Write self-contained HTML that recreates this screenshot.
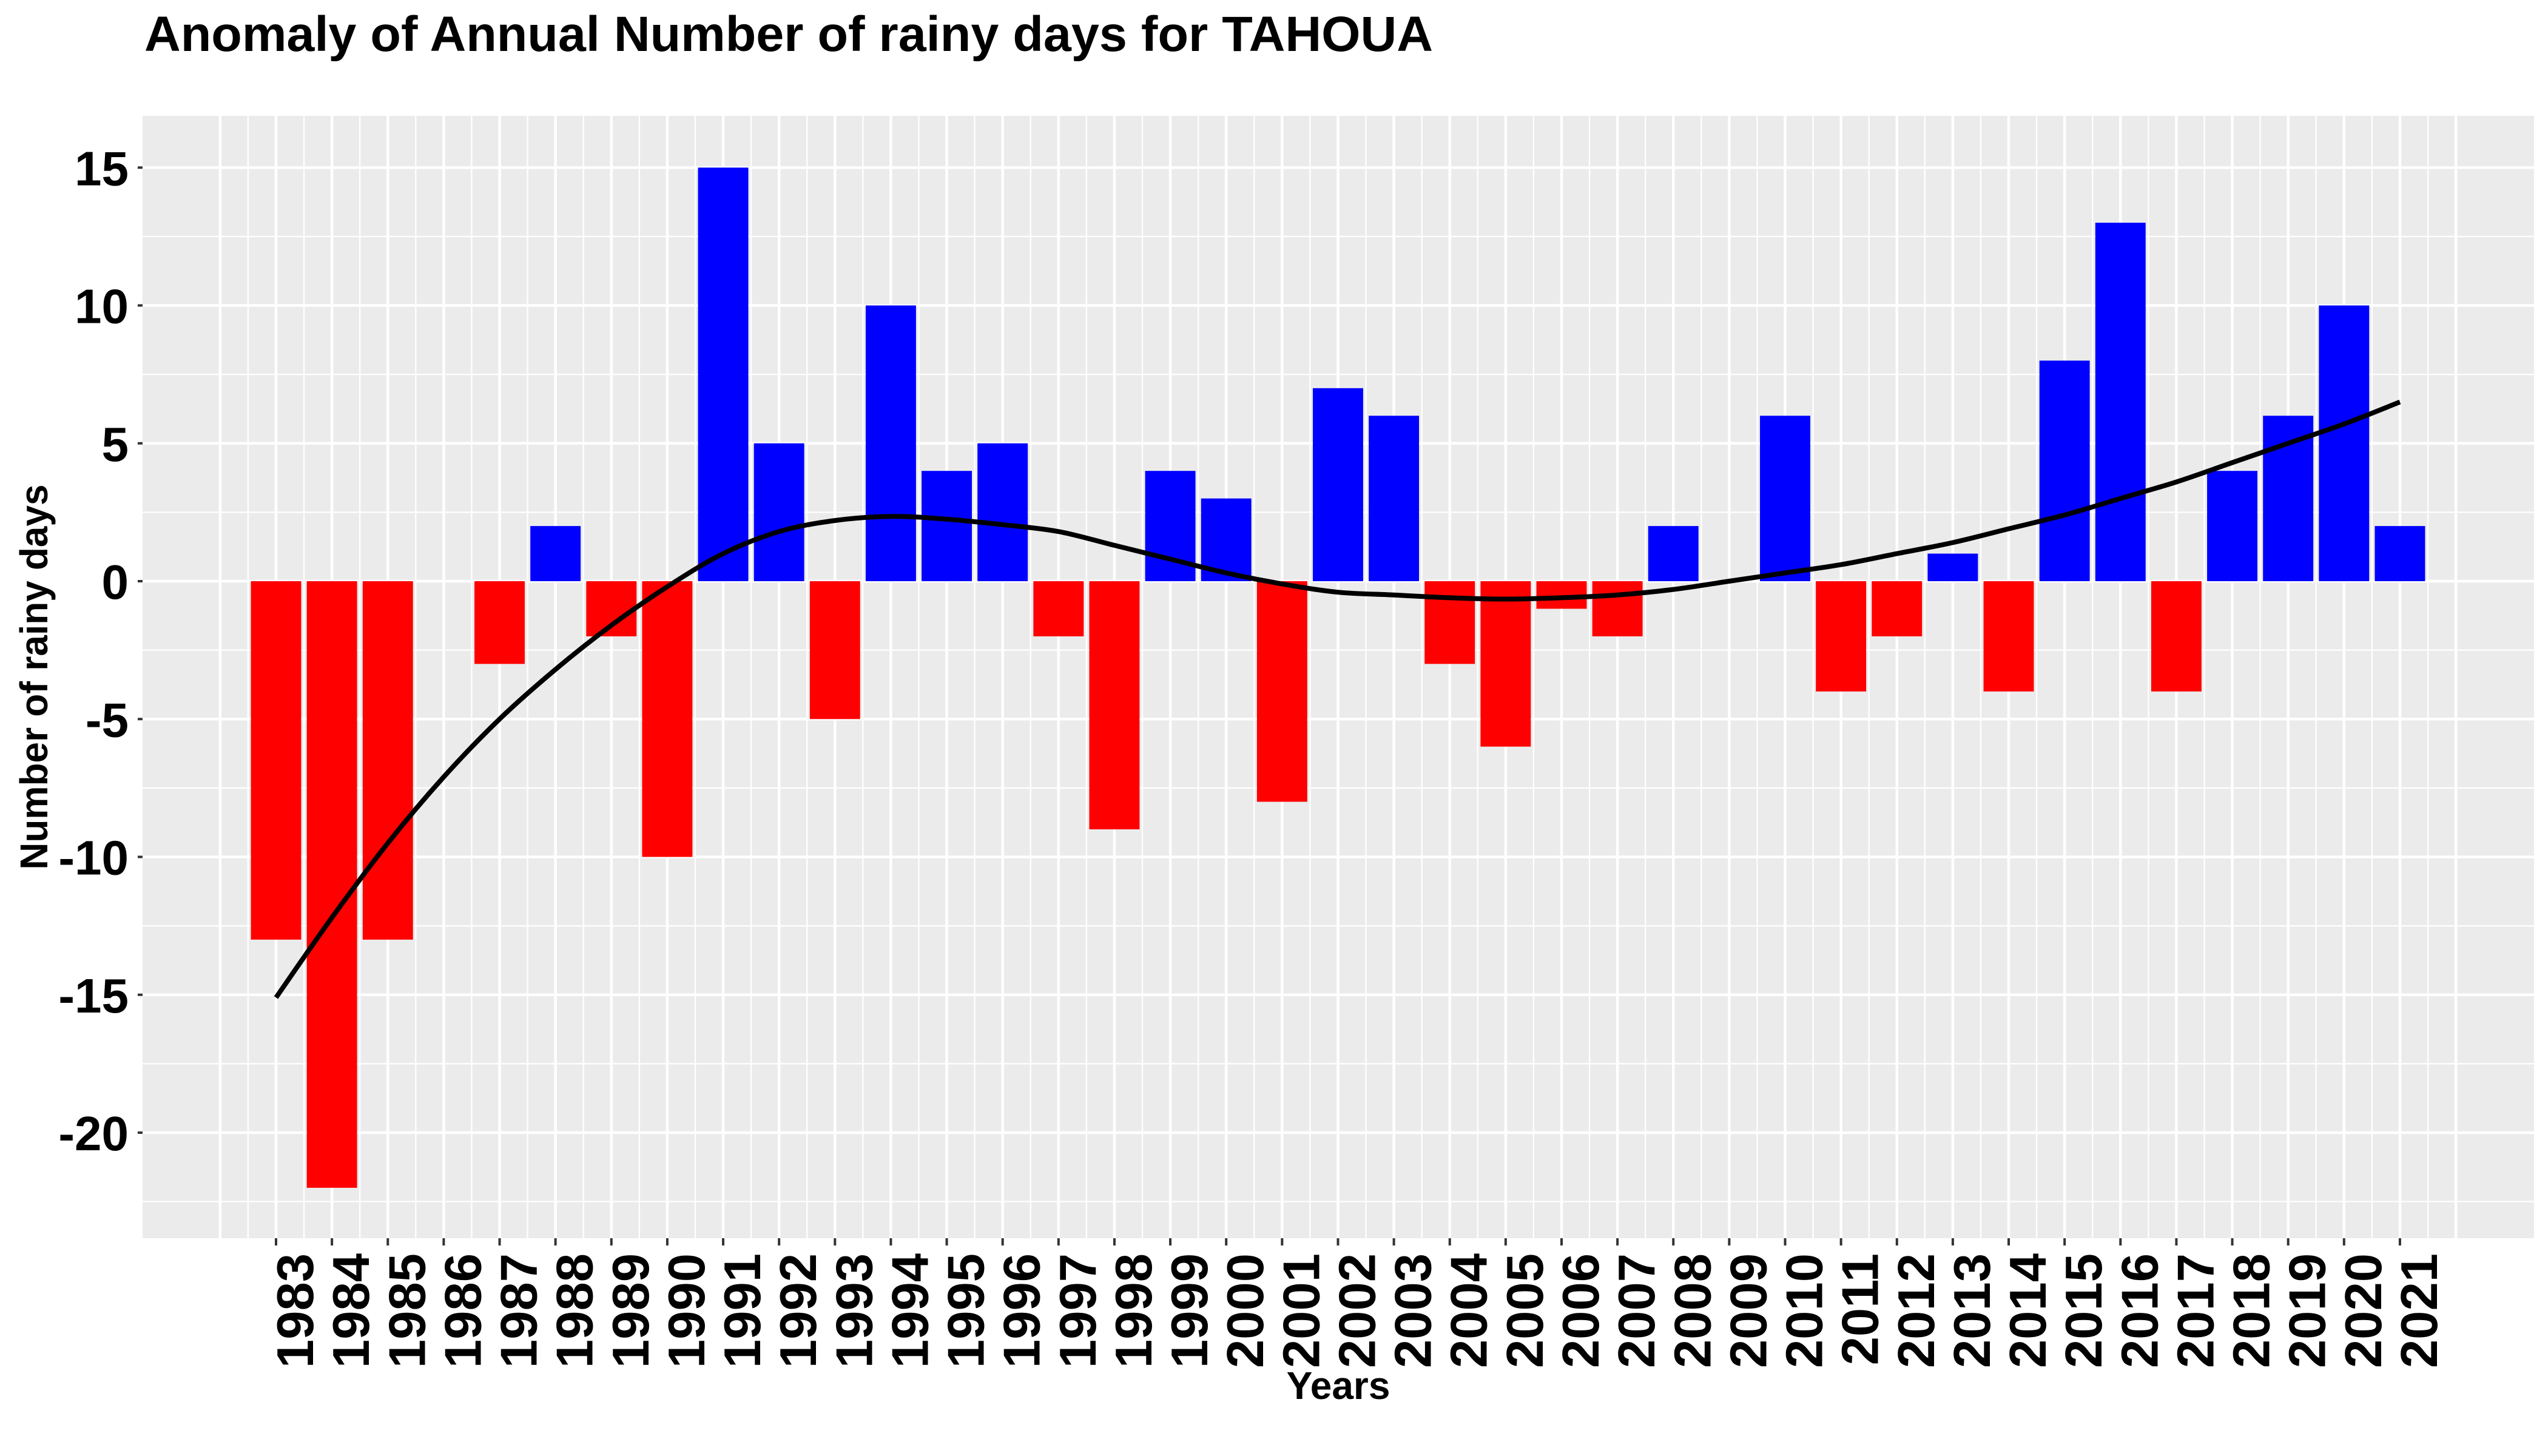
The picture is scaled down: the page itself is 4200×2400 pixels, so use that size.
<!DOCTYPE html>
<html><head><meta charset="utf-8"><style>
html,body{margin:0;padding:0;background:#fff;}
svg{display:block;font-family:"Liberation Sans",Arial,sans-serif;}
</style></head><body>
<svg id="chart" width="4200" height="2400" viewBox="0 0 4200 2400" xmlns="http://www.w3.org/2000/svg">
<text x="238" y="84" font-size="82" font-weight="bold" fill="#000" textLength="2124" lengthAdjust="spacingAndGlyphs">Anomaly of Annual Number of rainy days for TAHOUA</text>
<rect x="235" y="191" width="3942" height="1850" fill="#EBEBEB"/>
<g id="grid"></g>
<g id="bars"></g>
<g id="trend"></g>
<g id="yaxis"></g>
<g id="xaxis"></g>
<text transform="translate(78,1116) rotate(-90)" text-anchor="middle" font-size="64" font-weight="bold" fill="#000" textLength="635" lengthAdjust="spacingAndGlyphs">Number of rainy days</text>
<text x="2206" y="2306" text-anchor="middle" font-size="64" font-weight="bold" fill="#000">Years</text>
</svg>
<script>
const years = [1983,1984,1985,1986,1987,1988,1989,1990,1991,1992,1993,1994,1995,1996,1997,1998,1999,2000,2001,2002,2003,2004,2005,2006,2007,2008,2009,2010,2011,2012,2013,2014,2015,2016,2017,2018,2019,2020,2021];
const anomalies = [-13,-22,-13,0,-3,2,-2,-10,15,5,-5,10,4,5,-2,-9,4,3,-8,7,6,-3,-6,-1,-2,2,0,6,-4,-2,1,-4,8,13,-4,4,6,10,2];
const trend = [-15.1,-12.2,-9.5,-7.1,-5.0,-3.2,-1.6,-0.2,1.0,1.8,2.2,2.35,2.25,2.05,1.8,1.3,0.8,0.3,-0.1,-0.4,-0.5,-0.6,-0.65,-0.6,-0.5,-0.3,0.0,0.3,0.6,1.0,1.4,1.9,2.4,3.0,3.6,4.3,5.0,5.7,6.5];
const yTicks = [15,10,5,0,-5,-10,-15,-20];
const yTickLabels = ["15","10","5","0","-5","-10","-15","-20"];

const NS = "http://www.w3.org/2000/svg";
const PX0 = 235, PX1 = 4177, PY0 = 191, PY1 = 2041;
const xs = yr => 455 + (yr - 1983) * 92.13;
const ys = v => 958 - v * 45.45;
function mk(tag, attrs, parent){ const e=document.createElementNS(NS,tag); for(const k in attrs) e.setAttribute(k,attrs[k]); parent.appendChild(e); return e; }

const grid = document.getElementById('grid');
for (let v=-22.5; v<=17; v+=5){ const l=mk('line',{x1:PX0,x2:PX1,y1:ys(v),y2:ys(v),stroke:'#fff','stroke-width':2.3},grid);
 
  }
for (let yr=1982.5; yr<=2022; yr+=1){ const l=mk('line',{x1:xs(yr),x2:xs(yr),y1:PY0,y2:PY1,stroke:'#fff','stroke-width':2.3},grid);
 
  }
yTicks.forEach(v=>{ const l=mk('line',{x1:PX0,x2:PX1,y1:ys(v),y2:ys(v),stroke:'#fff','stroke-width':4.5},grid);
 
  });
for (let yr=1982; yr<=2022; yr++){ const l=mk('line',{x1:xs(yr),x2:xs(yr),y1:PY0,y2:PY1,stroke:'#fff','stroke-width':4.5},grid);
 
  }

const bars = document.getElementById('bars');
const bw = 92.13*0.9;
years.forEach((yr,i)=>{ const v=anomalies[i]; const y0=ys(Math.max(v,0)), y1=ys(Math.min(v,0));
 const r=mk('rect',{x:xs(yr)-bw/2,y:y0,width:bw,height:Math.max(0,y1-y0),fill:v>=0?'#0000FF':'#FF0000'},bars);
 
  });

const pts = years.map((yr,i)=>[xs(yr), ys(trend[i])]);
let d = 'M'+pts[0][0]+','+pts[0][1];
for (let i=0;i<pts.length-1;i++){ const p0=pts[Math.max(0,i-1)],p1=pts[i],p2=pts[i+1],p3=pts[Math.min(pts.length-1,i+2)];
 const c1=[p1[0]+(p2[0]-p0[0])/6,p1[1]+(p2[1]-p0[1])/6], c2=[p2[0]-(p3[0]-p1[0])/6,p2[1]-(p3[1]-p1[1])/6];
 d+=' C'+c1[0]+','+c1[1]+' '+c2[0]+','+c2[1]+' '+p2[0]+','+p2[1]; }
const tl = mk('path',{d:d,fill:'none',stroke:'#000','stroke-width':8},document.getElementById('trend'));



const ya = document.getElementById('yaxis');
yTicks.forEach((v,i)=>{ const t=mk('line',{x1:PX0-8,x2:PX0,y1:ys(v),y2:ys(v),stroke:'#333','stroke-width':4},ya);
 
 
 const tx=mk('text',{x:212,y:ys(v)+29,'text-anchor':'end','font-size':80,'font-weight':'bold',fill:'#000'},ya);
 tx.textContent=yTickLabels[i];
 
  });

const xa = document.getElementById('xaxis');
years.forEach(yr=>{ const x=xs(yr);
 const t=mk('line',{x1:x,x2:x,y1:PY1,y2:PY1+12,stroke:'#333','stroke-width':4},xa);
 
 
 const tx=mk('text',{transform:'translate('+(x+61)+',2066) rotate(-90)','text-anchor':'end','font-size':85,'font-weight':'bold',fill:'#000'},xa);
 tx.textContent=String(yr);
 
  });
</script>
</body></html>
